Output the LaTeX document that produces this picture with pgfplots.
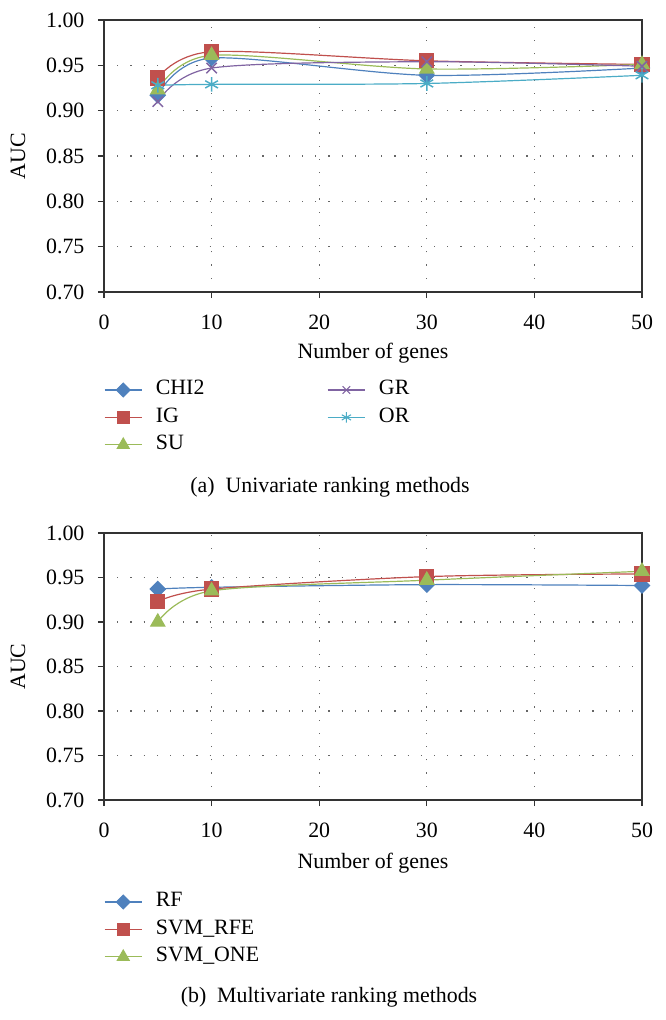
\documentclass[border=0pt]{standalone}
\usepackage{pgfplots}
\pgfplotsset{compat=1.18}
\usepackage{fontspec}
\setmainfont{Liberation Serif}
\definecolor{cblue}{HTML}{4F81BD}
\definecolor{cred}{HTML}{C0504D}
\definecolor{cgreen}{HTML}{9BBB59}
\definecolor{cpurple}{HTML}{8064A2}
\definecolor{ccyan}{HTML}{4BACC6}
\definecolor{axisgray}{HTML}{333333}
\pgfplotsset{
  myaxis/.style={
    scale only axis, width=403.5pt,
    xmin=0, xmax=50, ymin=0.70, ymax=1.00,
    xtick={0,10,20,30,40,50},
    ytick={0.70,0.75,0.80,0.85,0.90,0.95,1.00},
    /pgf/number format/assume math mode=true,
    yticklabel style={/pgf/number format/fixed, /pgf/number format/fixed zerofill, /pgf/number format/precision=2},
    every x tick label/.append style={anchor=north, inner sep=0pt, yshift=-12.5pt},
    every y tick label/.append style={anchor=east, inner sep=0pt, xshift=-10pt},
    tick align=outside, tick pos=left, major tick length=4.5pt,
    tick style={color=axisgray, line width=1pt},
    axis line style={color=axisgray, line width=1pt},
    grid=major,
    major grid style={dash pattern=on 0.9pt off 9pt, line width=0.9pt, color=black!60},
    clip=false,
    xlabel={Number of genes}, ylabel={AUC},
    ylabel style={at={(axis description cs:-0.16,0.5)}, anchor=center},
    legend cell align=left,
    legend image code/.code={\draw[mark repeat=2,mark phase=2] plot coordinates {(0pt,0pt) (14pt,0pt) (28pt,0pt)};},
    legend style={draw=none, fill=none, inner sep=0pt, outer sep=0pt, row sep=3pt,
      nodes={inner sep=1pt, text height=0.7em, text depth=0.25em},
      /tikz/every odd column/.append style={column sep=9pt},
      /tikz/every even column/.append style={column sep=91pt}},
  },
  sD/.style={cblue, line width=0.9pt, mark=square*, mark size=4pt, mark options={rotate=45, fill=cblue}},
  sI/.style={cred, line width=0.9pt, mark=square*, mark size=5.3pt, mark options={fill=cred}},
  sS/.style={cgreen, line width=0.9pt, mark=triangle*, mark size=6pt, mark options={fill=cgreen}},
  sG/.style={cpurple, line width=0.9pt, mark=x, mark size=5.5pt, mark options={line width=1.1pt}},
  sO/.style={ccyan, line width=0.9pt, mark=asterisk, mark size=5.5pt, mark options={line width=1.1pt}},
}
\begin{document}
\fontsize{16.4}{19.7}\selectfont
\begin{tikzpicture}[font=\fontsize{16.4}{19.7}\selectfont]
\path[use as bounding box] (-78pt,-546pt) rectangle (421.5pt,219pt);
\begin{axis}[myaxis, height=204pt, at={(0pt,0pt)}, anchor=south west,
  xlabel style={at={(axis description cs:0.5,-0.224)}, anchor=center},
  legend columns=2,
  legend style={at={(axis description cs:0,-0.317)}, anchor=north west}]
\addplot[sD, smooth, forget plot] coordinates {(5,0.917) (10,0.958) (30,0.939) (50,0.947)};
\addplot[sI, smooth, forget plot] coordinates {(5,0.936) (10,0.965) (30,0.955) (50,0.951)};
\addplot[sS, smooth, forget plot] coordinates {(5,0.923) (10,0.961) (30,0.946) (50,0.951)};
\addplot[sG, smooth, forget plot] coordinates {(5,0.910) (10,0.947) (30,0.954) (50,0.949)};
\addplot[sO, smooth, forget plot] coordinates {(5,0.928) (10,0.929) (30,0.930) (50,0.939)};
\addlegendimage{sD, mark size=3.6pt}\addlegendentry{CHI2}
\addlegendimage{sG, mark size=4pt, mark options={line width=0.8pt}}\addlegendentry{GR}
\addlegendimage{sI, mark size=4.5pt}\addlegendentry{IG}
\addlegendimage{sO, mark size=4pt, mark options={line width=0.8pt}}\addlegendentry{OR}
\addlegendimage{sS, mark size=5pt}\addlegendentry{SU}
\end{axis}
\node[anchor=center] at (169.5pt,-146.25pt) {(a)\enspace Univariate ranking methods};
\begin{axis}[myaxis, height=200.25pt, at={(0pt,-381pt)}, anchor=south west,
  xlabel style={at={(axis description cs:0.5,-0.236)}, anchor=center},
  legend columns=1,
  legend style={at={(axis description cs:0,-0.338)}, anchor=north west}]
\addplot[sD, smooth, forget plot] coordinates {(5,0.937) (10,0.939) (30,0.942) (50,0.941)};
\addplot[sI, smooth, forget plot] coordinates {(5,0.923) (10,0.937) (30,0.951) (50,0.954)};
\addplot[sS, smooth, forget plot] coordinates {(5,0.900) (10,0.935) (30,0.947) (50,0.957)};
\addlegendimage{sD, mark size=3.6pt}\addlegendentry{RF}
\addlegendimage{sI, mark size=4.5pt}\addlegendentry{SVM\_RFE}
\addlegendimage{sS, mark size=5pt}\addlegendentry{SVM\_ONE}
\end{axis}
\node[anchor=center] at (168.75pt,-528.75pt) {(b)\enspace Multivariate ranking methods};
\end{tikzpicture}
\end{document}
